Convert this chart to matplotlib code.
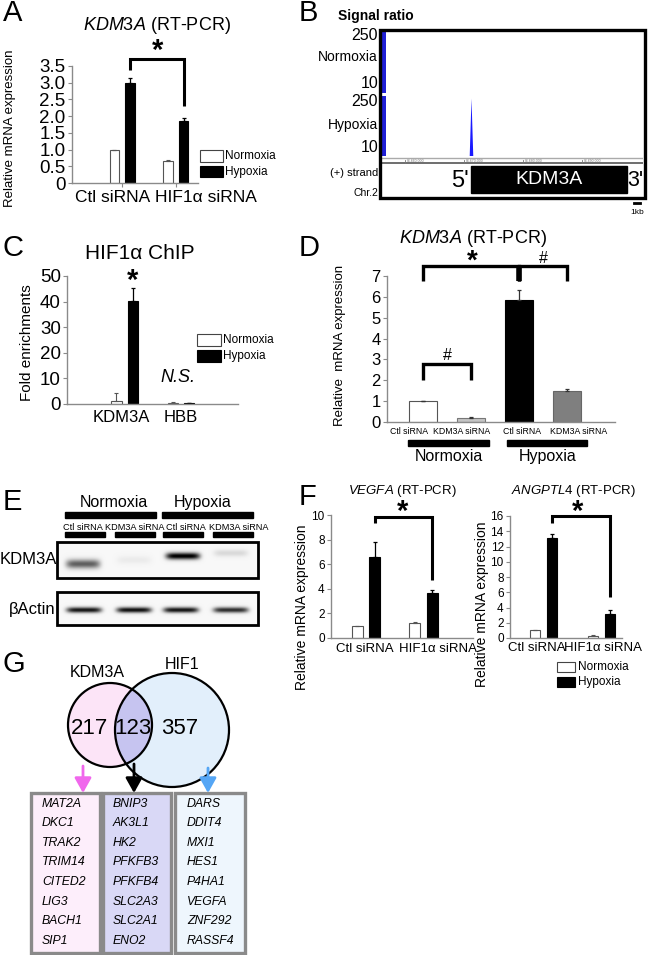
import numpy as np
import matplotlib
matplotlib.use('Agg')
import matplotlib.pyplot as plt
from matplotlib.patches import Rectangle, Circle

plt.rcParams['font.family'] = ['Liberation Sans', 'DejaVu Sans']
plt.rcParams['mathtext.fontset'] = 'custom'
plt.rcParams['mathtext.rm'] = 'Liberation Sans'
plt.rcParams['mathtext.it'] = 'Liberation Sans:italic'
plt.rcParams['mathtext.bf'] = 'Liberation Sans:bold'

W, H = 650, 955
fig = plt.figure(figsize=(6.5, 9.55), dpi=100)

# ---------------- DATA ----------------
# Panel A: KDM3A RT-PCR (HIF1a knockdown)
a_groups = ['Ctl siRNA', 'HIF1α siRNA']
a_norm = [1.0, 0.67]
a_norm_err = [0.0, 0.03]
a_hyp = [3.0, 1.85]
a_hyp_err = [0.13, 0.08]
a_yticks = [0, 0.5, 1.0, 1.5, 2.0, 2.5, 3.0, 3.5]
a_yticklabels = ['0', '0.5', '1.0', '1.5', '2.0', '2.5', '3.0', '3.5']

# Panel B: ChIP-seq signal track
b_xlim = [86656.0, 86700.3]          # kb
b_ruler_ticks = [86660, 86670, 86680, 86690]
b_ruler_labels = ['86,660,000', '86,670,000', '86,680,000', '86,690,000']
b_edge_width = 0.8                   # kb, blue strip at track start
b_edge_signal = [250, 250]           # normoxia, hypoxia
b_peak_pos = 86671.3
b_peak_half_width = 0.3
b_peak_height = 240
b_gene = [86671.3, 86697.6]

# Panel C: HIF1a ChIP
c_groups = ['KDM3A', 'HBB']
c_norm = [1.0, 0.5]
c_norm_err = [3.2, 0.2]
c_hyp = [40.3, 0.2]
c_hyp_err = [5.2, 0.0]
c_yticks = [0, 10, 20, 30, 40, 50]

# Panel D: KDM3A RT-PCR (KDM3A knockdown)
d_labels = ['Ctl siRNA', 'KDM3A siRNA', 'Ctl siRNA', 'KDM3A siRNA']
d_vals = [1.0, 0.2, 5.85, 1.5]
d_err = [0.0, 0.02, 0.5, 0.08]
d_colors = ['white', '#c4c4c4', 'black', '#7f7f7f']
d_yticks = [0, 1, 2, 3, 4, 5, 6, 7]

# Panel E: western blot band intensities
e_lanes = ['Ctl siRNA', 'KDM3A siRNA', 'Ctl siRNA', 'KDM3A siRNA']
e_kdm3a = [0.6, 0.05, 1.0, 0.12]
e_actin = [0.9, 0.92, 0.9, 0.8]

# Panel F: VEGFA and ANGPTL4 RT-PCR
f_groups = ['Ctl siRNA', 'HIF1α siRNA']
f_vegfa_norm = [1.0, 1.22]
f_vegfa_norm_err = [0.0, 0.12]
f_vegfa_hyp = [6.6, 3.65]
f_vegfa_hyp_err = [1.2, 0.25]
f_vegfa_yticks = [0, 2, 4, 6, 8, 10]
f_ang_norm = [1.0, 0.3]
f_ang_norm_err = [0.05, 0.03]
f_ang_hyp = [13.1, 3.1]
f_ang_hyp_err = [0.6, 0.6]
f_ang_yticks = [0, 2, 4, 6, 8, 10, 12, 14, 16]

# Panel G: Venn diagram and gene lists
g_sets = ['KDM3A', 'HIF1']
g_counts = [217, 123, 357]
g_genes_kdm3a = ['MAT2A', 'DKC1', 'TRAK2', 'TRIM14', 'CITED2', 'LIG3', 'BACH1', 'SIP1']
g_genes_both = ['BNIP3', 'AK3L1', 'HK2', 'PFKFB3', 'PFKFB4', 'SLC2A3', 'SLC2A1', 'ENO2']
g_genes_hif1 = ['DARS', 'DDIT4', 'MXI1', 'HES1', 'P4HA1', 'VEGFA', 'ZNF292', 'RASSF4']

# ---------------- HELPERS ----------------
def px_axes(x0, y0, x1, y1):
    return fig.add_axes([x0 / W, 1 - y1 / H, (x1 - x0) / W, (y1 - y0) / H])

AXC = '#8a8a8a'

def style_bar_ax(ax, ylab_size, xlab_size):
    for s in ['top', 'right']:
        ax.spines[s].set_visible(False)
    for s in ['left', 'bottom']:
        ax.spines[s].set_color(AXC)
        ax.spines[s].set_linewidth(1.0)
    ax.tick_params(axis='y', colors=AXC, labelcolor='black', length=3, pad=1.5, labelsize=ylab_size)
    ax.tick_params(axis='x', colors=AXC, labelcolor='black', length=3, pad=2, labelsize=xlab_size)
    ax.patch.set_visible(False)

def grouped_bars(ax, norm, norm_err, hyp, hyp_err, off, bw):
    x = np.arange(len(norm))
    ekw_n = dict(ecolor='#555555', capsize=1.5, elinewidth=0.8, capthick=0.8)
    ekw_h = dict(ecolor='black', capsize=1.5, elinewidth=0.9, capthick=0.9)
    ax.bar(x - off, norm, bw, color='white', edgecolor='#555555', linewidth=0.8,
           yerr=[np.zeros(len(norm)), norm_err], error_kw=ekw_n)
    ax.bar(x + off, hyp, bw, color='black', edgecolor='black', linewidth=0.8,
           yerr=[np.zeros(len(hyp)), hyp_err], error_kw=ekw_h)
    return x

def bracket(ax, x1, x2, yb1, ytop, yb2, lw=2.2):
    ax.plot([x1, x1, x2, x2], [yb1, ytop, ytop, yb2], color='black', lw=lw,
            clip_on=False, solid_joinstyle='miter', solid_capstyle='butt')

def star(ax, x, y, size=21):
    ax.text(x, y, r'$\mathbf{*}$', ha='center', va='center', fontsize=size, clip_on=False)

def cat_labels(ax, xs, labels, size, dy_px):
    tr = ax.get_xaxis_transform()
    for x, s in zip(xs, labels):
        ax.annotate(s, xy=(x, 0), xycoords=tr, xytext=(0, -dy_px * 0.72), textcoords='offset points',
                    ha='center', va='center', fontsize=size, annotation_clip=False)

# ---------------- PANEL A ----------------
axA = px_axes(72, 66, 198, 183)
style_bar_ax(axA, 13.5, 12.5)
off, bw = 0.145, 0.175
xa = grouped_bars(axA, a_norm, a_norm_err, a_hyp, a_hyp_err, off, bw)
axA.set_xlim(-0.935, 1.41)
axA.set_ylim(0, 3.5)
axA.set_yticks(a_yticks)
axA.set_yticklabels(a_yticklabels)
axA.set_xticks(xa)
axA.set_xticklabels([])
cat_labels(axA, [-0.17, 1.56], a_groups, 12.5, 14)
bracket(axA, xa[0] + off, xa[1] + off, 3.38, 3.71, 2.3)
star(axA, 0.66, 3.98)

# ---------------- PANEL B ----------------
trackN = px_axes(381, 32, 643, 93)
trackH = px_axes(381, 96, 643, 156)
for ax, sig in zip([trackN, trackH], b_edge_signal):
    ax.set_xlim(b_xlim)
    ax.set_ylim(10, 250)
    ax.axis('off')
    ax.bar([b_xlim[0]], [sig - 10], width=b_edge_width, bottom=10, align='edge', color='#1f1fd6')
trackH.fill([b_peak_pos - b_peak_half_width, b_peak_pos, b_peak_pos + b_peak_half_width],
            [10, b_peak_height, 10], color='#1a1aff', lw=0)

geneax = px_axes(381, 156, 643, 197)
geneax.set_xlim(b_xlim)
geneax.set_ylim(41, 0)
geneax.axis('off')
geneax.axhline(2, color='#aaaaaa', lw=1.0)
geneax.axhline(7, color='#555555', lw=1.2)
for t, lab in zip(b_ruler_ticks, b_ruler_labels):
    geneax.plot([t, t], [4.5, 7], color='#777777', lw=0.6)
    geneax.text(t + 1.8, 4.6, lab, fontsize=2.5, color='#777777', ha='center', va='center')
geneax.add_patch(Rectangle((b_gene[0], 10), b_gene[1] - b_gene[0], 27, color='black'))
geneax.text((b_gene[0] + b_gene[1]) / 2, 24, 'KDM3A', color='white', fontsize=14, ha='center', va='center')
geneax.text(b_gene[0] - 0.4, 25, "5'", fontsize=17, ha='right', va='center')
geneax.text(b_gene[1] + 0.05, 25, "3'", fontsize=15.5, ha='left', va='center')

# ---------------- PANEL C ----------------
axC = px_axes(67, 276, 238, 404)
style_bar_ax(axC, 13.5, 12)
offc, bwc = 0.145, 0.185
xc = grouped_bars(axC, c_norm, c_norm_err, c_hyp, c_hyp_err, offc, bwc)
axC.set_xlim(-1.02, 2.01)
axC.set_ylim(0, 50)
axC.set_yticks(c_yticks)
axC.set_xticks(xc)
axC.set_xticklabels([])
axC.tick_params(axis='x', length=0)
cat_labels(axC, [-0.06, 1.0], c_groups, 12, 13)
star(axC, xc[0] + offc, 48.5)
axC.text(xc[1] - 0.05, 10.5, 'N.S.', fontsize=13, style='italic', ha='center', va='center')

# ---------------- PANEL D ----------------
axD = px_axes(387, 276, 615, 422)
style_bar_ax(axD, 12, 6.2)
xd = np.arange(len(d_vals))
axD.bar(xd, d_vals, 0.6, color=d_colors, edgecolor=['#555555', '#777777', 'black', '#666666'], linewidth=0.8,
        yerr=[np.zeros(len(d_vals)), d_err],
        error_kw=dict(ecolor='#333333', capsize=1.5, elinewidth=0.9, capthick=0.9))
axD.set_xlim(-0.75, 4.0)
axD.set_ylim(0, 7)
axD.set_yticks(d_yticks)
axD.set_xticks(xd)
axD.set_xticklabels([])
axD.tick_params(axis='x', length=0)
cat_labels(axD, [-0.29, 0.80, 2.06, 3.24], d_labels, 6.3, 10)
bracket(axD, xd[0], xd[2], 6.75, 7.5, 6.75, lw=2.4)
bracket(axD, xd[2], xd[3], 6.75, 7.5, 6.75, lw=2.4)
axD.plot([xd[2], xd[2]], [6.75, 7.5], color='black', lw=4, clip_on=False, solid_capstyle='butt')
star(axD, 1.02, 7.74, size=20)
axD.text(2.5, 7.85, '#', fontsize=11.5, ha='center', va='center')
bracket(axD, xd[0], xd[1], 2.0, 2.8, 2.0, lw=2.4)
axD.text(0.5, 3.2, '#', fontsize=11.5, ha='center', va='center')

# ---------------- PANEL F ----------------
axF1 = px_axes(331, 515, 473, 638)
style_bar_ax(axF1, 8.5, 9.5)
offf, bwf = 0.15, 0.19
xf = grouped_bars(axF1, f_vegfa_norm, f_vegfa_norm_err, f_vegfa_hyp, f_vegfa_hyp_err, offf, bwf)
axF1.set_xlim(-0.61, 1.86)
axF1.set_ylim(0, 10)
axF1.set_yticks(f_vegfa_yticks)
axF1.set_xticks(xf)
axF1.set_xticklabels([])
axF1.tick_params(axis='x', length=0)
cat_labels(axF1, [-0.02, 1.25], f_groups, 9.5, 11)
bracket(axF1, xf[0] + offf, xf[1] + offf, 9.35, 9.85, 4.7)
star(axF1, 0.64, 10.35)

axF2 = px_axes(510, 516, 622, 638)
style_bar_ax(axF2, 8.5, 9.5)
offa, bwa = 0.147, 0.17
xg = grouped_bars(axF2, f_ang_norm, f_ang_norm_err, f_ang_hyp, f_ang_hyp_err, offa, bwa)
axF2.set_xlim(-0.578, 1.353)
axF2.set_ylim(0, 16)
axF2.set_yticks(f_ang_yticks)
axF2.set_xticks(xg)
axF2.set_xticklabels([])
axF2.tick_params(axis='x', length=0)
cat_labels(axF2, [-0.12, 1.03], f_groups, 9.5, 10)
bracket(axF2, xg[0] + offa, xg[1] + offa, 15.1, 16.0, 5.4)
star(axF2, 0.58, 16.7)

# ---------------- OVERLAY (pixel coords) ----------------
ov = fig.add_axes([0, 0, 1, 1])
ov.patch.set_visible(False)
ov.axis('off')

def T(x, y, s, **kw):
    kw.setdefault('ha', 'center')
    kw.setdefault('va', 'center')
    ov.text(x, y, s, **kw)

# panel letters
for lab, (x, y) in zip('ABCDEFG', [(3, 13), (299, 13), (3, 248), (299, 248), (3, 502), (299, 497), (3, 664)]):
    T(x, y, lab, fontsize=21, ha='left')

# Panel A texts
T(157, 25, r'$\mathit{KDM3A}$' + ' (RT-PCR)', fontsize=13)
T(10, 128, 'Relative mRNA expression', fontsize=9.5, rotation=90)
ov.add_patch(Rectangle((200, 150), 23, 12, facecolor='white', edgecolor='#444444', lw=0.8))
ov.add_patch(Rectangle((200, 166), 23, 11, facecolor='black', edgecolor='black', lw=0.8))
T(225, 156, 'Normoxia', fontsize=8.5, ha='left')
T(225, 172, 'Hypoxia', fontsize=8.5, ha='left')

# Panel B texts
T(338, 16, 'Signal ratio', fontsize=10, fontweight='bold', ha='left')
for y, s in [(35, '250'), (57, 'Normoxia'), (83, '10'), (101, '250'), (125, 'Hypoxia'), (147, '10')]:
    T(378, y, s, fontsize=11.5 if s[0].isdigit() else 10, ha='right')
T(378, 173, '(+) strand', fontsize=8, ha='right')
T(378, 193, 'Chr.2', fontsize=7.5, ha='right')
ov.add_patch(Rectangle((380, 30.5), 265, 167.5, fill=False, edgecolor='black', lw=2.4))
ov.plot([634, 640], [203, 203], color='black', lw=2)
T(637, 212, '1kb', fontsize=6)

# Panel C texts
T(140, 253, 'HIF1α ChIP', fontsize=15)
T(27, 343, 'Fold enrichments', fontsize=11, rotation=90)
ov.add_patch(Rectangle((197, 334), 24, 12, facecolor='white', edgecolor='#444444', lw=0.8))
ov.add_patch(Rectangle((197, 350), 24, 12, facecolor='black', edgecolor='black', lw=0.8))
T(223, 340, 'Normoxia', fontsize=8.5, ha='left')
T(223, 356, 'Hypoxia', fontsize=8.5, ha='left')

# Panel D texts
T(473, 238, r'$\mathit{KDM3A}$' + ' (RT-PCR)', fontsize=13)
T(340, 345, 'Relative  mRNA expression', fontsize=9.5, rotation=90)
ov.add_patch(Rectangle((408, 440), 81, 5.5, color='black'))
ov.add_patch(Rectangle((507, 440), 80, 5.5, color='black'))
T(449, 456, 'Normoxia', fontsize=11.5)
T(548, 456, 'Hypoxia', fontsize=11.5)

# Panel E: western blot
T(114, 502, 'Normoxia', fontsize=11.5)
T(203, 502, 'Hypoxia', fontsize=11.5)
ov.add_patch(Rectangle((65, 512), 91, 5.5, color='black'))
ov.add_patch(Rectangle((162, 512), 91, 5.5, color='black'))
lane_c = [85, 135, 183, 233]
lane_lab_c = [83, 135, 186, 239]
for xc_, s in zip(lane_lab_c, e_lanes):
    T(xc_, 527, s, fontsize=6.6)
for xc_ in lane_c:
    ov.add_patch(Rectangle((xc_ - 20, 532), 40, 5, color='black'))

def blot(x0, x1, y0, y1, centers, ys, amps, hw, hh, bg=0.03):
    nx, ny = int(x1 - x0) * 3, int(y1 - y0) * 3
    X = np.linspace(x0, x1, nx)
    Y = np.linspace(y0, y1, ny)
    XX, YY = np.meshgrid(X, Y)
    img = np.full_like(XX, bg)
    for cx, cy, a, h_ in zip(centers, ys, amps, hh):
        img += a * np.exp(-((XX - cx) / hw) ** 6) * np.exp(-((YY - cy) / h_) ** 2)
    ov.imshow(np.clip(img, 0, 1), extent=(x0, x1, y1, y0), cmap='gray_r', vmin=0, vmax=1,
              interpolation='bilinear', aspect='auto')
    ov.add_patch(Rectangle((x0, y0), x1 - x0, y1 - y0, fill=False, edgecolor='black', lw=2))

blot(57, 258, 542, 578, [83, 134, 183, 231], [564, 560, 556, 553], e_kdm3a, 17, [4.5, 4, 3.4, 3.5])
blot(57, 258, 592, 625, [84, 134, 181, 231], [610, 610, 610, 610], e_actin, 17.5, [2.8] * 4)
T(57, 559, 'KDM3A', fontsize=12, ha='right')
T(56, 609, 'βActin', fontsize=12, ha='right')

# Panel F texts
T(402, 491, r'$\mathit{VEGFA}$' + ' (RT-PCR)', fontsize=9.5)
T(573, 491, r'$\mathit{ANGPTL4}$' + ' (RT-PCR)', fontsize=9.5)
T(302, 607, 'Relative mRNA expression', fontsize=10, rotation=90)
T(482, 604, 'Relative mRNA expression', fontsize=10, rotation=90)
ov.add_patch(Rectangle((557, 662), 18, 10, facecolor='white', edgecolor='#444444', lw=0.8))
ov.add_patch(Rectangle((557, 677), 18, 10, facecolor='black', edgecolor='black', lw=0.8))
T(578, 667, 'Normoxia', fontsize=8.5, ha='left')
T(578, 682, 'Hypoxia', fontsize=8.5, ha='left')

# Panel G: Venn
c1 = Circle((110, 725), 42, facecolor='#fce4f7', edgecolor='none')
c2 = Circle((172, 730), 57, facecolor='#e2effb', edgecolor='none')
ov.add_patch(c1)
ov.add_patch(c2)
lens = Circle((172, 730), 57, facecolor='#c6c4f0', edgecolor='none')
ov.add_patch(lens)
lens.set_clip_path(c1)
ov.add_patch(Circle((110, 725), 42, fill=False, edgecolor='black', lw=1.6))
ov.add_patch(Circle((172, 730), 57, fill=False, edgecolor='black', lw=1.6))
T(97, 672, g_sets[0], fontsize=11.5)
T(182, 664, g_sets[1], fontsize=11.5)
for x, n in zip([90, 133, 180], g_counts):
    T(x, 728, str(n), fontsize=16)

arrow_cols = ['#f067ec', 'black', '#55a6f5']
arrow_x = [83, 134, 208]
arrow_y0 = [766, 764, 768]
for ax_, ay, col in zip(arrow_x, arrow_y0, arrow_cols):
    ov.annotate('', xy=(ax_, 793), xytext=(ax_, ay),
                arrowprops=dict(arrowstyle='-|>,head_length=0.75,head_width=0.42', color=col, lw=2,
                                mutation_scale=12, shrinkA=0, shrinkB=0))

box_x = [(31, 100), (103, 171), (175, 245)]
box_fill = ['#fdeefb', '#d9d8f6', '#eef6fd']
box_tx = [42, 113, 187]
for (x0, x1), fc, tx, genes in zip(box_x, box_fill, box_tx,
                                   [g_genes_kdm3a, g_genes_both, g_genes_hif1]):
    ov.add_patch(Rectangle((x0, 793), x1 - x0, 160, facecolor=fc, edgecolor='#8a8a8a', lw=2.4))
    for i, g in enumerate(genes):
        T(tx, 803.5 + 19.6 * i, g, fontsize=8.8, style='italic', ha='left')

ov.set_xlim(0, W)
ov.set_ylim(H, 0)

fig.savefig('out.png', dpi=100)
